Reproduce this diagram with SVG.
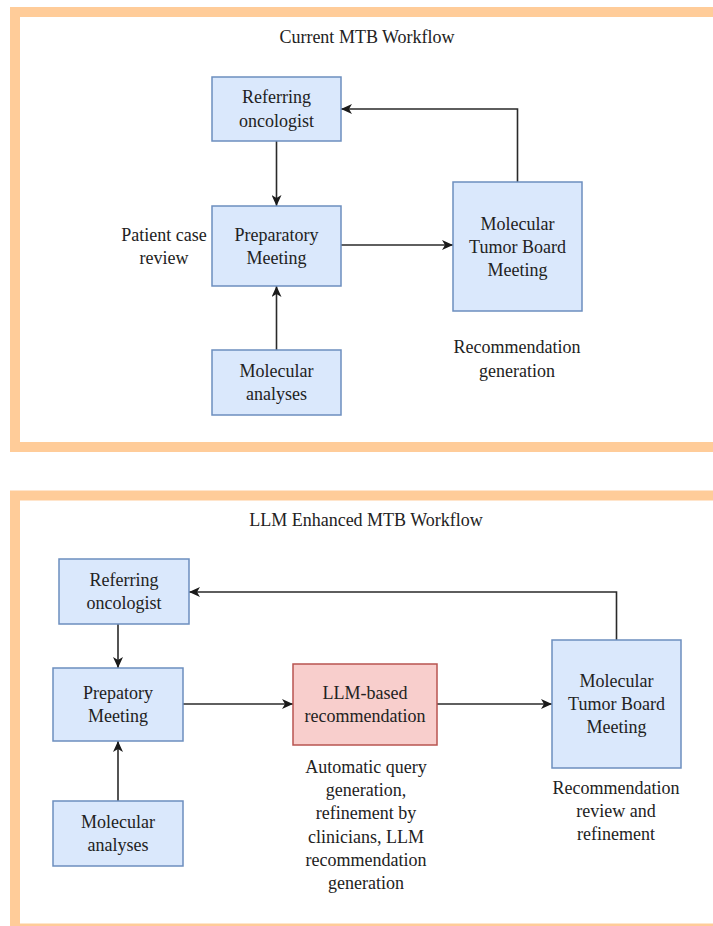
<svg xmlns="http://www.w3.org/2000/svg" width="713" height="926" viewBox="0 0 713 926">
<defs>
<marker id="arr" markerUnits="userSpaceOnUse" markerWidth="12" markerHeight="10" refX="11" refY="5" orient="auto">
<path d="M0,0 L11,5 L0,10 L3,5 Z" fill="#1a1a1a"/>
</marker>
</defs>
<style>
.frame{fill:#ffffff;stroke:#FFCC99;stroke-width:10}
.box{fill:#dae8fc;stroke:#6c8ebf;stroke-width:1.5}
.llm{fill:#f8cecc;stroke:#b85450;stroke-width:1.5}
text{font-size:18px;fill:#222;text-anchor:middle}
.edge{fill:none;stroke:#2a2a2a;stroke-width:1.6;marker-end:url(#arr)}
</style>
<rect width="713" height="926" fill="#ffffff"/>
<rect class="frame" x="15" y="12" width="720" height="435"/>
<rect class="frame" x="15" y="495.5" width="720" height="433"/>

<g font-family="'Liberation Serif', 'DejaVu Serif', serif">
<text x="367" y="43">Current MTB Workflow</text>
<text x="366" y="526">LLM Enhanced MTB Workflow</text>

<g id="connectors">
<path class="edge" d="M276.5,141 V206"/>
<path class="edge" d="M276.5,350 V286"/>
<path class="edge" d="M341,245 H453"/>
<path class="edge" d="M517.5,182 V109 H341"/>
<path class="edge" d="M118,624 V668"/>
<path class="edge" d="M118,801 V741"/>
<path class="edge" d="M183,704 H293"/>
<path class="edge" d="M437,704 H552"/>
<path class="edge" d="M616.5,640 V592 H189"/>
</g>

<g id="ref1">
<rect class="box" x="212" y="77" width="129" height="64"/>
<text x="276.5" y="103">Referring</text>
<text x="276.5" y="127">oncologist</text>
</g>
<g id="prep1">
<rect class="box" x="212" y="206" width="129" height="80"/>
<text x="276.5" y="240.5">Preparatory</text>
<text x="276.5" y="263.5">Meeting</text>
</g>
<g id="patient-label">
<text x="164" y="240.5">Patient case</text>
<text x="164" y="263.5">review</text>
</g>
<g id="mol1">
<rect class="box" x="212" y="350" width="129" height="65"/>
<text x="276.5" y="377">Molecular</text>
<text x="276.5" y="400">analyses</text>
</g>
<g id="mtb1">
<rect class="box" x="453" y="182" width="129" height="129"/>
<text x="517.5" y="229.5">Molecular</text>
<text x="517.5" y="252.5">Tumor Board</text>
<text x="517.5" y="275.5">Meeting</text>
</g>
<g id="rec-label1">
<text x="517" y="353">Recommendation</text>
<text x="517" y="377">generation</text>
</g>

<g id="ref2">
<rect class="box" x="59" y="559" width="130" height="65"/>
<text x="124" y="586">Referring</text>
<text x="124" y="609">oncologist</text>
</g>
<g id="prep2">
<rect class="box" x="53" y="668" width="130" height="73"/>
<text x="118" y="699">Prepatory</text>
<text x="118" y="722">Meeting</text>
</g>
<g id="mol2">
<rect class="box" x="53" y="801" width="130" height="65"/>
<text x="118" y="828">Molecular</text>
<text x="118" y="851">analyses</text>
</g>
<g id="llm">
<rect class="llm" x="293" y="664" width="144" height="81"/>
<text x="365" y="699">LLM-based</text>
<text x="365" y="722">recommendation</text>
</g>
<g id="auto-label">
<text x="366" y="773">Automatic query</text>
<text x="366" y="796">generation,</text>
<text x="366" y="819">refinement by</text>
<text x="366" y="843">clinicians, LLM</text>
<text x="366" y="866">recommendation</text>
<text x="366" y="889">generation</text>
</g>
<g id="mtb2">
<rect class="box" x="552" y="640" width="129" height="128"/>
<text x="616.5" y="687">Molecular</text>
<text x="616.5" y="710">Tumor Board</text>
<text x="616.5" y="733">Meeting</text>
</g>
<g id="rec-label2">
<text x="616" y="794">Recommendation</text>
<text x="616" y="817">review and</text>
<text x="616" y="840">refinement</text>
</g>
</g>
</svg>
